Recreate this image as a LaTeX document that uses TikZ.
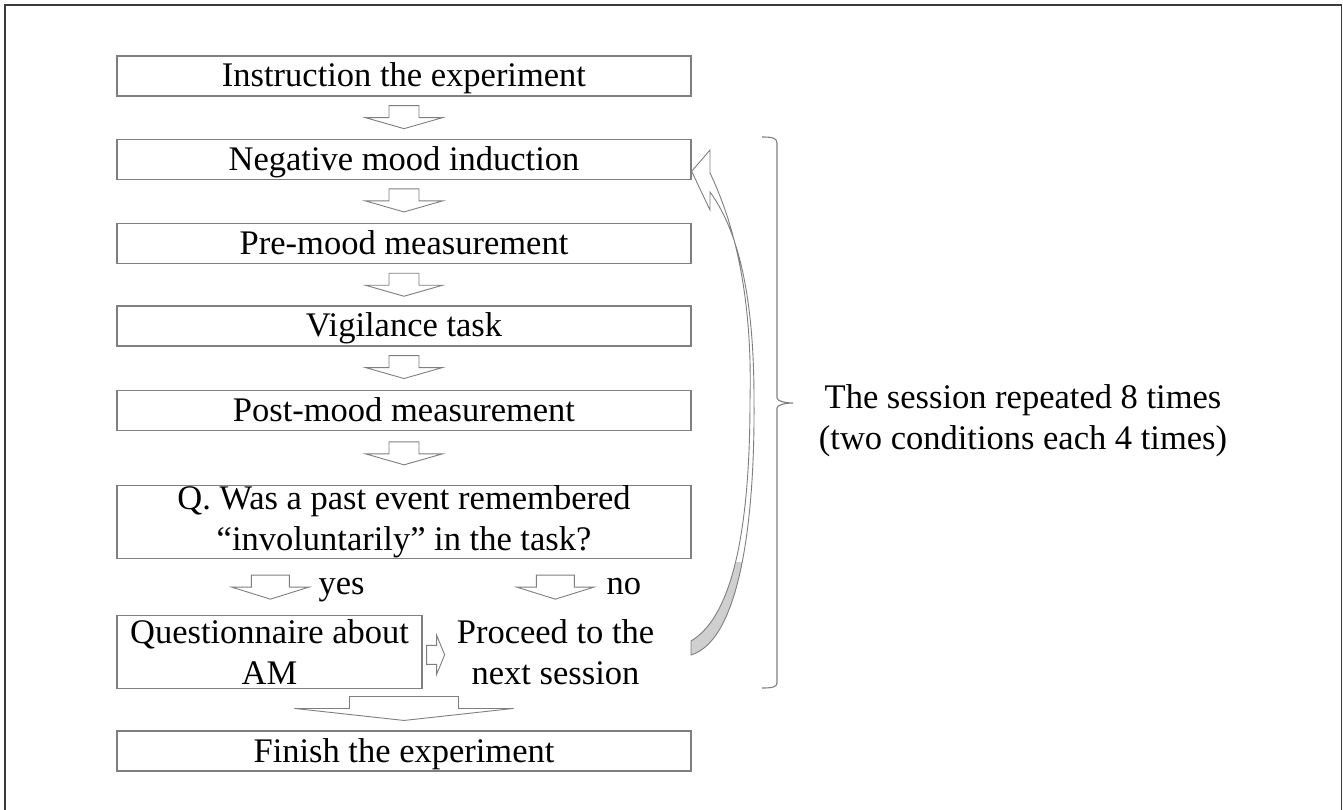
\documentclass[tikz,border=0pt]{standalone}
\usepackage{fontspec}
\setmainfont{Liberation Serif}
\usetikzlibrary{positioning, calc}
\definecolor{boxgray}{HTML}{7F7F7F}
\definecolor{framegray}{HTML}{3A3A3A}
\definecolor{tailgray}{HTML}{CFCFCF}
\tikzset{%
	base/.style={font=\fontsize{34.5}{41}\selectfont, inner sep=0pt},
	flow/.style={base, draw=boxgray, line width=1.3pt, rectangle, minimum width=574pt,%
		minimum height=40pt, text height=27pt, text depth=5pt},
	flowtwo/.style={base, draw=boxgray, line width=1.3pt, rectangle, minimum width=574pt,%
		minimum height=73pt, align=center},
	small/.style={base, draw=boxgray, line width=1.3pt, rectangle, minimum width=305pt,%
		minimum height=73pt, align=center},
	plain/.style={base, align=center},
	arrowline/.style={draw=boxgray, fill=white, line width=0.9pt},
	frame/.style={draw=framegray, line width=1.8pt},
	bracket/.style={draw=boxgray, line width=1.1pt},
	pics/blockdown/.style n args={4}{code={%
		\draw[arrowline] (-#1/2,0) -- (-#1/2,#3) -- (-#2/2,#3) -- (0,#4) -- (#2/2,#3) -- (#1/2,#3) -- (#1/2,0) -- cycle;}},
	pics/blockright/.style n args={4}{code={%
		\draw[arrowline] (0,-#1/2) -- (#3,-#1/2) -- (#3,-#2/2) -- (#4,0) -- (#3,#2/2) -- (#3,#1/2) -- (0,#1/2) -- cycle;}}
}

\begin{document}
\begin{tikzpicture}[x=1pt, y=-1pt]
	\useasboundingbox (0,0) rectangle (1343,810);
	\fill[white] (0,0) rectangle (1343,810);
	\draw[frame] (5,5) rectangle (1341.5,840);

	\node[flow] (inst) at (404,76) {Instruction the experiment};
	\node[flow, below=42pt of inst] (neg) {Negative mood induction};
	\node[flow, below=43pt of neg] (pre) {Pre-mood measurement};
	\node[flow, below=41pt of pre] (vig) {Vigilance task};
	\node[flow, below=43pt of vig] (post) {Post-mood measurement};
	\node[flowtwo, below=54pt of post] (q) {Q. Was a past event remembered\\“involuntarily” in the task?};
	\node[small, anchor=north west] (qam) at ($(q.south west)+(0,56)$) {Questionnaire about\\AM};
	\node[plain, right=34pt of qam] (next) {Proceed to the\\next session};
	\node[flow, anchor=north] (fin) at ($(qam.south -| q.south)+(0,41)$) {Finish the experiment};
	\node[plain, anchor=base west] (yes) at ($(q.south west)+(202,35)$) {yes};
	\node[plain, anchor=base west] (no) at ($(q.south west)+(490,35)$) {no};
	\node[plain] (note) at (1023,421) {The session repeated 8 times\\(two conditions each 4 times)};

	\pic at ($(inst.south)+(0,9)$) {blockdown={30}{77}{12}{23}};
	\pic at ($(neg.south)+(0,9)$) {blockdown={30}{77}{12}{23}};
	\pic at ($(pre.south)+(0,9)$) {blockdown={30}{77}{12}{23}};
	\pic at ($(vig.south)+(0,9)$) {blockdown={30}{77}{12}{23}};
	\pic at ($(post.south)+(0,11)$) {blockdown={30}{77}{12}{23}};
	\pic at ($(q.south west)+(154,16)$) {blockdown={38}{77}{12}{24}};
	\pic at ($(q.south west)+(439,16)$) {blockdown={38}{77}{12}{24}};
	\pic at ($(qam.east)+(4,2.5)$) {blockright={19}{39}{10}{18}};
	\pic at ($(qam.south -| q.south)+(0,7)$) {blockdown={109}{219}{12}{24}};

	% return to the next session
	\coordinate (tip) at ($(neg.east)+(0,12)$);
	\draw[arrowline, path picture={\fill[tailgray] (680,562) rectangle (770,670);}]
		(tip) -- (710,150) -- (710,173) .. controls (742,240) and (752,320) .. (750,400)
		.. controls (750,520) and (735,615) .. (691,641) -- (691,655)
		.. controls (740,640) and (755,520) .. (754,400)
		.. controls (754,320) and (745,240) .. (710,192) -- (710,210) -- cycle;

	% bracket
	\draw[bracket] (762,137) .. controls (772,137) and (777,138) .. (777,143) -- (777,398)
		.. controls (777,401) and (785,403) .. (793,403) .. controls (785,403) and (777,405) .. (777,408)
		-- (777,683) .. controls (777,687) and (772,688) .. (762,688);
\end{tikzpicture}
\end{document}
